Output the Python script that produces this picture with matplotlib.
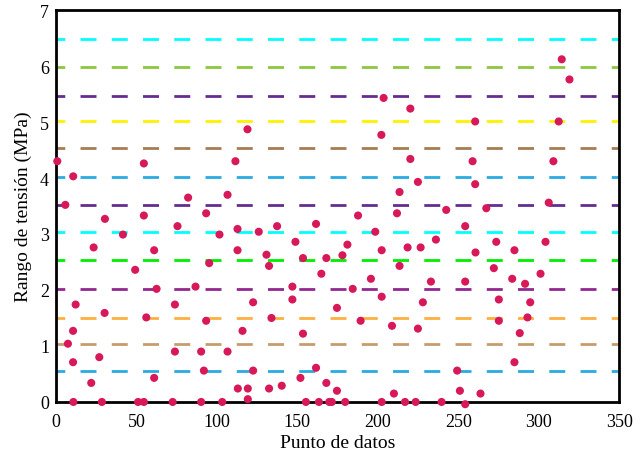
import matplotlib
matplotlib.use("Agg")
import matplotlib.pyplot as plt

plt.rcParams['font.family'] = ['Liberation Serif', 'DejaVu Serif']
plt.rcParams['lines.scale_dashes'] = False

# puntos de datos (x, rango de tension)
punto = [0.8, 5.8, 7.4, 10.6, 10.6, 10.7, 10.8, 12.2, 21.9, 23.4, 26.9, 28.5, 30.2, 30.4,
         41.6, 49.2, 51.0, 54.6, 54.6, 54.6, 56.1, 61.0, 61.0, 62.5, 72.5, 73.9, 73.9,
         75.5, 82.1, 86.7, 90.2, 90.2, 91.9, 93.3, 93.3, 95.2, 101.6, 103.3, 106.6, 106.6,
         111.5, 112.8, 112.8, 113.0, 115.9, 119.0, 119.2, 119.2, 122.5, 122.5, 126.0,
         130.8, 132.4, 132.4, 133.9, 137.4, 140.3, 146.9, 146.9, 148.8, 151.9, 153.5,
         153.5, 155.3, 161.6, 161.6, 163.4, 164.9, 168.0, 168.0, 169.8, 171.4, 174.6,
         174.6, 178.0, 179.7, 181.1, 184.4, 187.7, 189.3, 195.7, 198.4, 202.2, 202.4,
         202.4, 202.4, 203.6, 208.8, 210.0, 211.9, 213.5, 213.5, 216.9, 218.5, 220.2,
         220.2, 223.5, 224.9, 224.9, 226.6, 228.0, 233.0, 236.1, 239.6, 242.5, 249.3,
         251.0, 254.3, 254.3, 254.3, 258.9, 260.5, 260.5, 260.7, 263.8, 267.4, 272.1,
         273.6, 275.2, 275.2, 283.5, 284.9, 284.9, 288.2, 291.5, 293.0, 294.7, 301.1,
         304.2, 306.2, 309.1, 312.4, 314.3, 319.1]
tension = [4.30, 3.52, 1.04, 1.27, 0.71, 4.03, 0.0, 1.74, 0.34, 2.76, 0.80, 0.0, 1.59, 3.27,
           2.99, 2.36, 0.0, 0.0, 3.33, 4.26, 1.51, 2.71, 0.43, 2.02, 0.0, 1.74, 0.90,
           3.14, 3.65, 2.06, 0.90, 0.0, 0.56, 3.37, 1.45, 2.48, 2.99, 0.0, 3.70, 0.90,
           4.30, 3.09, 2.71, 0.24, 1.27, 4.87, 0.24, 0.05, 1.78, 0.56, 3.04,
           2.63, 2.43, 0.24, 1.50, 3.14, 0.29, 2.06, 1.83, 2.86, 0.43, 2.57,
           1.22, 0.0, 3.18, 0.61, 0.0, 2.29, 2.57, 0.34, 0.0, 0.0, 1.68,
           0.20, 2.62, 0.0, 2.81, 2.02, 3.33, 1.45, 2.20, 3.04, 4.77, 2.71,
           1.88, 0.0, 5.43, 1.36, 0.15, 3.37, 3.75, 2.43, 0.0, 2.76, 5.24,
           4.34, 0.0, 3.93, 1.31, 2.76, 1.78, 2.15, 2.90, 0.0, 3.43, 0.56,
           0.20, 3.14, 2.15, -0.04, 4.30, 5.01, 3.89, 2.67, 0.15, 3.46, 2.39,
           2.86, 1.83, 1.45, 2.20, 2.71, 0.71, 1.23, 2.11, 1.51, 1.78, 2.29,
           2.86, 3.56, 4.30, 5.01, 6.12, 5.76]

# niveles de referencia
niveles = [0.56, 1.04, 1.50, 2.02, 2.53, 3.04, 3.51, 4.02, 4.54, 5.01, 5.47, 5.99, 6.49]
colores = ['#29ABE2', '#C69C6D', '#FBB040', '#92278F', '#00EE00', '#00FFFF', '#662D91',
           '#29ABE2', '#A67C52', '#FFF200', '#662D91', '#8DC63F', '#00FFFF']

fig = plt.figure(figsize=(6.4, 4.6), dpi=100)
ax = fig.add_axes([0.0875, 0.124, 0.880, 0.852])

for nivel, c in zip(niveles, colores):
    ax.axhline(nivel, color=c, lw=2, linestyle=(5.2, (11.5, 11.0)), zorder=1)

ax.scatter(punto, tension, s=34, color='#D7195A', edgecolors='none', zorder=5, clip_on=False)

ax.set_xlim(0, 350)
ax.set_ylim(0, 7)
ax.set_xticks([0, 50, 100, 150, 200, 250, 300, 350])
ax.set_yticks([0, 1, 2, 3, 4, 5, 6, 7])
ax.tick_params(length=0, labelsize=13)
ax.tick_params(axis='x', pad=8)
ax.tick_params(axis='y', pad=5)
for s in ax.spines.values():
    s.set_linewidth(2)
    s.set_zorder(4)
ax.set_xlabel('Punto de datos', fontsize=14, labelpad=3)
ax.set_ylabel('Rango de tensión (MPa)', fontsize=14, labelpad=6)

fig.savefig('out.png', dpi=100)
